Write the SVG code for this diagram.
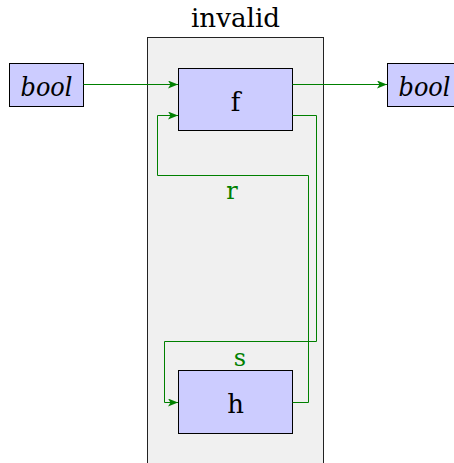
<svg xmlns="http://www.w3.org/2000/svg" width="454" height="463" viewBox="0 0 454 463">
  <style>
    .box { fill: #ccccff; stroke: #000; stroke-width: 1; }
    text { font-family: 'DejaVu Serif', serif; }
    .lbl { font-size: 26px; fill: #000; text-anchor: middle; }
    .it { font-style: italic; }
    .edge { fill: none; stroke: #008000; stroke-width: 1; marker-end: url(#arr); }
    .elbl { font-size: 24px; fill: #008000; text-anchor: middle; }
  </style>
  <defs>
    <marker id="arr" viewBox="0 0 10 8" refX="10" refY="4" markerWidth="10" markerHeight="8" markerUnits="userSpaceOnUse" orient="auto">
      <path d="M0,0 L10,4 L0,8 L2.5,4 Z" fill="#008000"/>
    </marker>
  </defs>

  <rect x="0" y="0" width="454" height="463" fill="#fff"/>

  <g id="invalid">
    <rect x="147.5" y="37.5" width="176" height="430" fill="#f0f0f0" stroke="#222" stroke-width="1"/>
    <text class="lbl" x="235.5" y="27" textLength="89" lengthAdjust="spacingAndGlyphs">invalid</text>
  </g>

  <g id="bool-in">
    <rect class="box" x="9.5" y="63.5" width="74" height="43"/>
    <text class="lbl it" x="46.5" y="96" textLength="52" lengthAdjust="spacingAndGlyphs">bool</text>
  </g>

  <g id="bool-out">
    <rect class="box" x="387.5" y="63.5" width="74" height="43"/>
    <text class="lbl it" x="424.5" y="96" textLength="52" lengthAdjust="spacingAndGlyphs">bool</text>
  </g>

  <g id="f">
    <rect class="box" x="178.5" y="68.5" width="114" height="62"/>
    <text class="lbl" x="235.5" y="111">f</text>
  </g>

  <g id="h">
    <rect class="box" x="178.5" y="370.5" width="114" height="63"/>
    <text class="lbl" x="235.5" y="413">h</text>
  </g>

  <g id="connectors">
    <path class="edge" d="M83.5,84.5 H178"/>
    <path class="edge" d="M292.5,84.5 H387"/>
    <!-- r: h back to f -->
    <path class="edge" d="M292.5,402.5 H308.5 V175.5 H157.5 V115.5 H178"/>
    <text class="elbl" x="232" y="199">r</text>
    <!-- s: f down to h -->
    <path class="edge" d="M292.5,115.5 H316.5 V341.5 H164.5 V402.5 H178"/>
    <text class="elbl" x="240" y="366">s</text>
  </g>
</svg>
